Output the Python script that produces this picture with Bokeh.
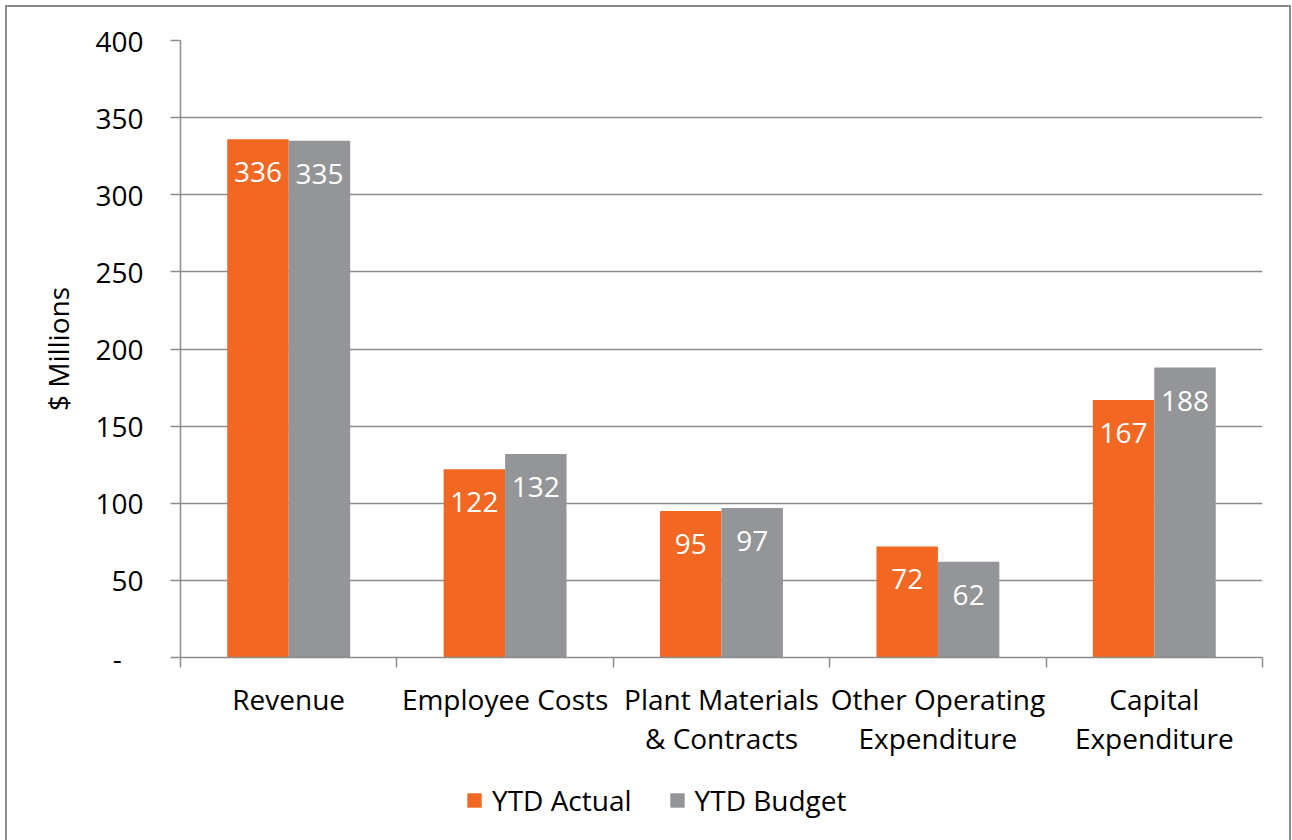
from bokeh.plotting import figure
from bokeh.layouts import column
from bokeh.models import FixedTicker, Legend, LegendItem, ColumnDataSource
from bokeh.core.properties import value
from bokeh.embed import file_html
from bokeh.resources import INLINE
import numpy as np

# ---- data ----
categories = ["Revenue", "Employee Costs", "Plant Materials\n& Contracts",
              "Other Operating\nExpenditure", "Capital\nExpenditure"]
ytd_actual = [336, 122, 95, 72, 167]
ytd_budget = [335, 132, 97, 62, 188]
series_names = ["YTD Actual", "YTD Budget"]
y_ticks = [0, 50, 100, 150, 200, 250, 300, 350, 400]
y_tick_labels = ["-\u00a0\u00a0\u00a0", "50", "100", "150", "200", "250", "300", "350", "400"]
y_axis_title = "$ Millions"

# ---- style ----
FONT = "Open Sans"
FS = "28px"
ORANGE = "#F26722"
GRAY = "#939598"
LINE = "#8c8c8c"
BAR_W = 0.284
OFF = 0.142
colors = [ORANGE, GRAY]

idx = np.arange(len(categories))
centers = idx + 0.5

fig = figure(width=1282, height=757, output_backend="svg", toolbar_location=None,
             x_range=(0, len(categories)), y_range=(0, 400),
             min_border_left=173, min_border_right=27, min_border_top=33, min_border_bottom=107)
fig.outline_line_color = None

src_a = ColumnDataSource(dict(x=centers - OFF, top=ytd_actual, lbl=[str(v) for v in ytd_actual]))
src_b = ColumnDataSource(dict(x=centers + OFF, top=ytd_budget, lbl=[str(v) for v in ytd_budget]))

fig.vbar(x="x", top="top", width=BAR_W, source=src_a, fill_color=ORANGE, line_color=None)
fig.vbar(x="x", top="top", width=BAR_W, source=src_b, fill_color=GRAY, line_color=None)

for s in (src_a, src_b):
    fig.text(x="x", y="top", text="lbl", source=s, text_color="white", text_align="center",
             text_baseline="middle", y_offset=33, text_font=value(FONT), text_font_size=FS)

# y axis
ya = fig.yaxis
ya.ticker = FixedTicker(ticks=y_ticks)
ya.major_label_overrides = {t: l for t, l in zip(y_ticks, y_tick_labels)}
ya.axis_label = y_axis_title
ya.axis_label_text_font = FONT
ya.axis_label_text_font_size = FS
ya.axis_label_text_font_style = "normal"
ya.axis_label_text_color = "black"
ya.axis_label_standoff = 15
ya.major_label_text_font = FONT
ya.major_label_text_font_size = FS
ya.major_label_text_color = "black"
ya.major_label_standoff = 27
ya.major_tick_out = 10
ya.major_tick_in = 0
ya.minor_tick_out = 0
ya.minor_tick_in = 0
ya.axis_line_color = LINE
ya.axis_line_width = 1.5
ya.major_tick_line_color = LINE
ya.major_tick_line_width = 1.5

# x axis
xa = fig.xaxis
xa.ticker = FixedTicker(ticks=list(centers), minor_ticks=list(range(len(categories) + 1)))
xa.major_label_overrides = {float(c): n for c, n in zip(centers, categories)}
xa.major_label_text_font = FONT
xa.major_label_text_font_size = FS
xa.major_label_text_color = "black"
xa.major_label_text_line_height = 1.03
xa.major_label_standoff = 12
xa.major_tick_out = 0
xa.major_tick_in = 0
xa.minor_tick_out = 10
xa.minor_tick_in = 0
xa.minor_tick_line_color = LINE
xa.minor_tick_line_width = 1.5
xa.axis_line_color = LINE
xa.axis_line_width = 1.5

# grid
fig.xgrid.visible = False
fig.ygrid.ticker = FixedTicker(ticks=y_ticks)
fig.ygrid.grid_line_color = LINE
fig.ygrid.grid_line_width = 1.5

# ---- legend strip (separate small figure below the chart) ----
leg_fig = figure(width=1282, height=76, output_backend="svg", toolbar_location=None,
                 x_range=(0, 1), y_range=(0, 1), x_axis_type=None, y_axis_type=None,
                 min_border=0)
leg_fig.outline_line_color = None
leg_fig.grid.visible = False
leg_items = []
for name, c in zip(series_names, colors):
    # zero-height swatch renderer: only its legend glyph is visible
    r = leg_fig.vbar(x=[0.5], top=[0], width=0.1, fill_color=c, line_color=None)
    leg_items.append(LegendItem(label=name, renderers=[r]))

legend = Legend(items=leg_items, orientation="horizontal", location=(285, 21),
                border_line_color=None, background_fill_alpha=0,
                label_text_font=FONT, label_text_font_size=FS, label_text_color="black",
                glyph_width=18, glyph_height=18, spacing=36, label_standoff=9,
                padding=0, margin=0)
leg_fig.add_layout(legend)

p = column(fig, leg_fig, spacing=0, margin=(5, 0, 0, 5),
           styles={"border-left": "2px solid #8c8c8c", "border-top": "2px solid #8c8c8c",
                   "border-right": "2px solid #8c8c8c"})

open("out.html", "w").write(file_html(p, INLINE))
